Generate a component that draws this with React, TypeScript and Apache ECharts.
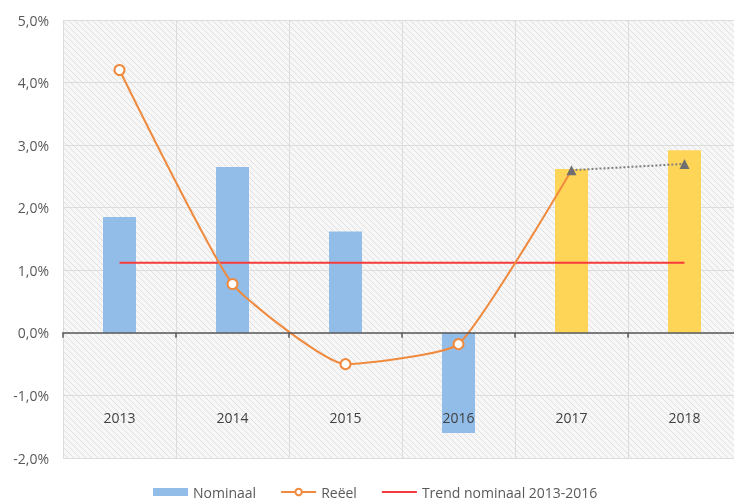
import React, { useEffect, useRef } from "react";
import * as echarts from "echarts";

const years = ["2013", "2014", "2015", "2016", "2017", "2018"];
const nominaal = [1.85, 2.65, 1.62, -1.6, 2.62, 2.92];
const reeel = [4.2, 0.78, -0.5, -0.18, 2.6, null];
const prognose = [null, null, null, null, 2.6, 2.7];
const trend = [1.12, 1.12, 1.12, 1.12, 1.12, 1.12];
const forecastYears = ["2017", "2018"];

function makeHatch() {
  const c = document.createElement("canvas");
  c.width = 6;
  c.height = 6;
  const ctx = c.getContext("2d");
  if (ctx) {
    ctx.fillStyle = "#f7f7f7";
    ctx.fillRect(0, 0, 6, 6);
    ctx.strokeStyle = "#e0e0e0";
    ctx.lineWidth = 1;
    ctx.beginPath();
    ctx.moveTo(0, 0);
    ctx.lineTo(6, 6);
    ctx.moveTo(-3, 3);
    ctx.lineTo(3, 9);
    ctx.moveTo(3, -3);
    ctx.lineTo(9, 3);
    ctx.stroke();
  }
  return c;
}

export default function App() {
  const ref = useRef<HTMLDivElement>(null);
  useEffect(() => {
    if (!ref.current) return;
    const chart = echarts.init(ref.current, null, { renderer: "svg" });
    const font = "'Open Sans', sans-serif";
    chart.setOption({
      animation: false,
      textStyle: { fontFamily: font },
      grid: {
        left: 63,
        right: -7,
        top: 20,
        bottom: 43,
        containLabel: false,
        outerBoundsMode: "none",
        show: true,
        borderWidth: 0,
        backgroundColor: {
          image: makeHatch(),
          repeat: "repeat",
          imageWidth: 6,
          imageHeight: 6,
        },
      },
      legend: {
        left: 148,
        top: 480,
        itemWidth: 35,
        itemHeight: 8,
        itemGap: 24,
        textStyle: { fontFamily: font, fontSize: 14, color: "#595959" },
        data: [
          { name: "Nominaal", icon: "rect", itemStyle: { color: "#92BDE8" } },
          {
            name: "Reëel",
            itemStyle: { color: "#EF8A3E", borderColor: "#EF8A3E" },
          },
          { name: "Trend nominaal 2013-2016", itemStyle: { opacity: 0 } },
        ],
      },
      xAxis: [
        {
          type: "category",
          data: years,
          position: "top",
          axisLine: { show: false, onZero: false },
          axisTick: { show: false },
          axisLabel: { show: false },
          splitLine: { show: true, lineStyle: { color: "#dcdcdc", width: 1 } },
        },
        {
          type: "category",
          data: years,
          position: "bottom",
          z: 10,
          axisLine: { onZero: true, lineStyle: { color: "#595959", width: 1.5 } },
          axisTick: { show: true, length: 5, lineStyle: { color: "#595959", width: 1.5 } },
          axisLabel: {
            inside: true,
            margin: 34,
            fontSize: 14,
            color: "#404040",
            fontFamily: font,
          },
          splitLine: { show: false },
        },
      ],
      yAxis: {
        type: "value",
        min: -2,
        max: 5,
        interval: 1,
        axisLine: { show: false },
        axisTick: { show: false },
        axisLabel: {
          margin: 14,
          fontSize: 14,
          color: "#595959",
          fontFamily: font,
          formatter: (v: number) => v.toFixed(1).replace(".", ",") + "%",
        },
        splitLine: { show: true, lineStyle: { color: "#dcdcdc", width: 1 } },
      },
      series: [
        {
          name: "Nominaal",
          type: "bar",
          barWidth: 33,
          data: nominaal.map((v, i) => ({
            value: v,
            itemStyle: {
              color: forecastYears.includes(years[i]) ? "#FFD557" : "#92BDE8",
            },
          })),
          itemStyle: { color: "#92BDE8" },
          z: 2,
        },
        {
          name: "Trend nominaal 2013-2016",
          type: "line",
          data: trend,
          symbol: "none",
          lineStyle: { color: "#F53B3B", width: 2 },
          itemStyle: { color: "#F53B3B" },
          z: 3,
        },
        {
          name: "Reëel",
          type: "line",
          data: reeel.map((v, i) => ({
            value: v,
            symbol: i === 4 ? "none" : "circle",
          })),
          smooth: 0.15,
          symbolSize: 10,
          lineStyle: { color: "#EF8A3E", width: 2 },
          itemStyle: { color: "#ffffff", borderColor: "#EF8A3E", borderWidth: 2 },
          z: 4,
        },
        {
          name: "Prognose",
          type: "line",
          data: prognose,
          symbol: "triangle",
          symbolSize: 10,
          lineStyle: { color: "#7f7f7f", width: 2, type: "dotted" },
          itemStyle: { color: "#6f6f6f" },
          z: 5,
        },
      ],
    });
    return () => chart.dispose();
  }, []);
  return (
    <div
      ref={ref}
      style={{ position: "fixed", left: 0, top: 0, width: 734, height: 501 }}
    />
  );
}
